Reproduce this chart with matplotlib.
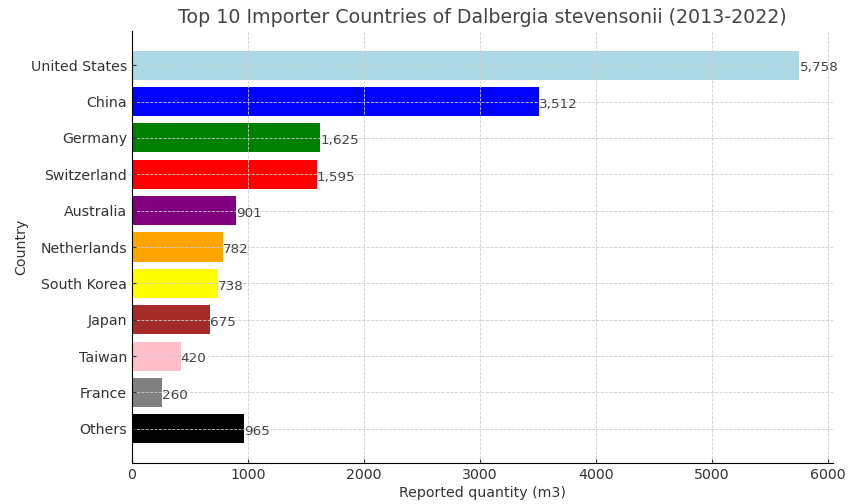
import matplotlib
matplotlib.use("Agg")
import matplotlib.pyplot as plt

# data
countries = ["United States", "China", "Germany", "Switzerland", "Australia",
             "Netherlands", "South Korea", "Japan", "Taiwan", "France", "Others"]
quantities = [5758, 3512, 1625, 1595, 901, 782, 738, 675, 420, 260, 965]
colors = ["lightblue", "blue", "green", "red", "purple", "orange",
          "yellow", "brown", "pink", "gray", "black"]

txt = "#333333"
plt.rcParams["text.color"] = txt
plt.rcParams["axes.labelcolor"] = txt
plt.rcParams["xtick.color"] = txt
plt.rcParams["ytick.color"] = txt

fig, ax = plt.subplots(figsize=(8.49, 5.04), dpi=100)
bars = ax.barh(countries, quantities, color=colors)
ax.invert_yaxis()

for b, q in zip(bars, quantities):
    ax.annotate(f"{q:,}", (b.get_width(), b.get_y() + b.get_height() / 2),
                xytext=(0, -2), textcoords="offset points",
                va="center", ha="left", fontsize=9.7, color="#444444")

ax.set_title("Top 10 Importer Countries of Dalbergia stevensonii (2013-2022)",
             fontsize=13.7, color="#444444")
ax.set_xlabel("Reported quantity (m3)", fontsize=10.2, labelpad=3)
ax.set_ylabel("Country", fontsize=10.2, labelpad=2)
ax.tick_params(labelsize=10.2, direction="in", length=3)

ax.grid(True, linestyle="--", linewidth=0.6, color="#cccccc")
ax.set_axisbelow(False)
for s in ["top", "right"]:
    ax.spines[s].set_visible(False)
for s in ["left", "bottom"]:
    ax.spines[s].set_zorder(5)

fig.subplots_adjust(left=0.1555, right=0.981, top=0.9385, bottom=0.0813)
fig.savefig("out.png")
